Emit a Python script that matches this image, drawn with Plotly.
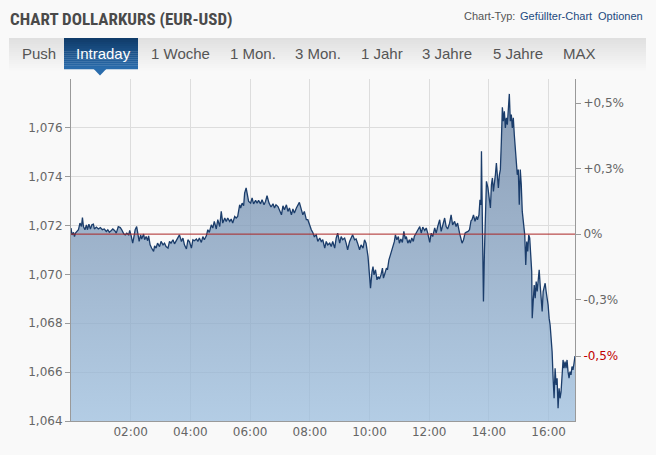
import plotly.graph_objects as go

# ---------------- data ----------------
# minutes after 00:00
minutes = [
    0, 2, 5, 7, 9, 12, 15, 18, 21, 23, 25, 28, 31, 33, 36, 39, 42, 45, 47, 51,
    55, 59, 63, 67, 71, 74, 77, 81, 84, 88, 91, 95, 99, 102, 106, 109, 112, 116, 118, 121,
    124, 126, 129, 132, 134, 137, 140, 142, 146, 148, 151, 154, 156, 159, 162, 166, 168, 171, 174, 178,
    181, 185, 188, 191, 195, 198, 201, 205, 208, 211, 215, 218, 222, 225, 228, 232, 235, 238, 242, 245,
    248, 252, 255, 258, 262, 265, 268, 272, 275, 278, 282, 285, 288, 292, 295, 299, 302, 305, 309, 312,
    315, 319, 322, 325, 329, 332, 335, 339, 341, 344, 347, 349, 352, 355, 357, 361, 364, 367, 371, 374,
    377, 381, 384, 388, 391, 394, 398, 402, 406, 409, 412, 416, 419, 423, 426, 429, 433, 436, 439, 443,
    446, 449, 453, 456, 459, 463, 466, 469, 473, 476, 479, 483, 486, 489, 493, 496, 500, 503, 506, 510,
    513, 516, 520, 523, 526, 530, 533, 536, 540, 543, 546, 550, 553, 556, 560, 563, 566, 570, 573, 576,
    580, 583, 587, 590, 593, 597, 599, 601, 602, 605, 607, 609, 612, 615, 618, 620, 623, 626, 628, 631,
    634, 636, 639, 642, 644, 647, 650, 652, 655, 658, 660, 663, 666, 669, 672, 674, 677, 680, 682, 685,
    688, 690, 694, 697, 701, 704, 707, 711, 714, 717, 721, 724, 727, 731, 734, 737, 741, 744, 747, 751,
    754, 757, 761, 764, 767, 771, 774, 777, 781, 784, 786, 789, 792, 794, 798, 801, 804, 806, 809, 812,
    815, 817, 820, 822, 824, 825, 827, 828, 829, 831, 833, 835, 838, 840, 843, 845, 847, 849, 851, 853,
    855, 857, 859, 861, 863, 865, 867, 869, 871, 873, 875, 877, 879, 881, 883, 885, 887, 889, 891, 893,
    895, 897, 899, 901, 903, 905, 907, 910, 912, 914, 916, 918, 920, 922, 924, 926, 927, 929, 931, 933,
    935, 937, 939, 941, 943, 945, 947, 949, 951, 953, 955, 957, 959, 961, 963, 965, 967, 969, 971, 973,
    975, 977, 979, 981, 983, 985, 987, 989, 991, 993, 995, 997, 999, 1001, 1003, 1005, 1007, 1009, 1011, 1013,
]

# EUR-USD price
prices = [
    1.07190, 1.07162, 1.07172, 1.07155, 1.07169, 1.07176, 1.07183, 1.07210, 1.07196, 1.07233,
    1.07196, 1.07183, 1.07203, 1.07183, 1.07206, 1.07186, 1.07203, 1.07206, 1.07186, 1.07194,
    1.07186, 1.07192, 1.07183, 1.07186, 1.07176, 1.07183, 1.07173, 1.07180, 1.07186, 1.07179,
    1.07169, 1.07196, 1.07192, 1.07183, 1.07166, 1.07162, 1.07169, 1.07162, 1.07180, 1.07158,
    1.07128, 1.07149, 1.07183, 1.07196, 1.07166, 1.07135, 1.07162, 1.07145, 1.07165, 1.07142,
    1.07155, 1.07138, 1.07158, 1.07121, 1.07108, 1.07094, 1.07117, 1.07108, 1.07128, 1.07114,
    1.07135, 1.07121, 1.07128, 1.07114, 1.07108, 1.07135, 1.07128, 1.07142, 1.07125, 1.07135,
    1.07149, 1.07162, 1.07135, 1.07149, 1.07121, 1.07104, 1.07142, 1.07135, 1.07108, 1.07142,
    1.07138, 1.07145, 1.07135, 1.07149, 1.07131, 1.07155, 1.07142, 1.07158, 1.07183, 1.07172,
    1.07203, 1.07190, 1.07217, 1.07186, 1.07224, 1.07196, 1.07258, 1.07210, 1.07231, 1.07217,
    1.07231, 1.07217, 1.07227, 1.07210, 1.07237, 1.07231, 1.07237, 1.07285, 1.07272, 1.07292,
    1.07281, 1.07333, 1.07354, 1.07313, 1.07299, 1.07292, 1.07313, 1.07289, 1.07303, 1.07292,
    1.07303, 1.07289, 1.07306, 1.07285, 1.07299, 1.07322, 1.07292, 1.07276, 1.07289, 1.07272,
    1.07285, 1.07278, 1.07265, 1.07244, 1.07281, 1.07265, 1.07285, 1.07258, 1.07272, 1.07244,
    1.07268, 1.07251, 1.07272, 1.07285, 1.07295, 1.07265, 1.07244, 1.07258, 1.07224, 1.07224,
    1.07203, 1.07183, 1.07172, 1.07155, 1.07162, 1.07135, 1.07149, 1.07135, 1.07142, 1.07108,
    1.07135, 1.07121, 1.07128, 1.07114, 1.07135, 1.07108, 1.07149, 1.07169, 1.07128, 1.07155,
    1.07142, 1.07149, 1.07128, 1.07101, 1.07135, 1.07149, 1.07162, 1.07142, 1.07145, 1.07128,
    1.07101, 1.07121, 1.07108, 1.07142, 1.07128, 1.07073, 1.07027, 1.06978, 1.06944, 1.07012,
    1.07032, 1.06998, 1.07019, 1.06978, 1.06991, 1.06981, 1.06998, 1.07026, 1.06985, 1.07005,
    1.07026, 1.07019, 1.07060, 1.07080, 1.07094, 1.07108, 1.07135, 1.07162, 1.07142, 1.07155,
    1.07128, 1.07145, 1.07131, 1.07176, 1.07145, 1.07155, 1.07128, 1.07142, 1.07128, 1.07149,
    1.07135, 1.07155, 1.07169, 1.07176, 1.07196, 1.07169, 1.07194, 1.07180, 1.07190, 1.07169,
    1.07131, 1.07169, 1.07155, 1.07190, 1.07169, 1.07196, 1.07224, 1.07176, 1.07203, 1.07231,
    1.07196, 1.07186, 1.07210, 1.07244, 1.07203, 1.07217, 1.07196, 1.07210, 1.07169, 1.07145,
    1.07128, 1.07142, 1.07169, 1.07172, 1.07176, 1.07183, 1.07220, 1.07224, 1.07244, 1.07217,
    1.07237, 1.07224, 1.07244, 1.07306, 1.07285, 1.07504, 1.07067, 1.06916, 1.06889, 1.07094,
    1.07299, 1.07381, 1.07354, 1.07326, 1.07272, 1.07367, 1.07395, 1.07340, 1.07367, 1.07408,
    1.07456, 1.07408, 1.07354, 1.07408, 1.07429, 1.07545, 1.07684, 1.07627, 1.07668, 1.07600,
    1.07641, 1.07613, 1.07695, 1.07739, 1.07627, 1.07654, 1.07600, 1.07641, 1.07572, 1.07504,
    1.07436, 1.07408, 1.07429, 1.07285, 1.07429, 1.07367, 1.07258, 1.07176, 1.07162, 1.07039,
    1.07135, 1.07094, 1.07162, 1.07149, 1.07080, 1.07012, 1.06821, 1.06916, 1.06957, 1.06903,
    1.06971, 1.06930, 1.06985, 1.07019, 1.06957, 1.06903, 1.06848, 1.06930, 1.06944, 1.06964,
    1.06930, 1.06903, 1.06875, 1.06821, 1.06793, 1.06739, 1.06684, 1.06575, 1.06493, 1.06616,
    1.06548, 1.06575, 1.06452, 1.06534, 1.06493, 1.06520, 1.06575, 1.06650, 1.06616, 1.06643,
    1.06616, 1.06650, 1.06602, 1.06575, 1.06602, 1.06589, 1.06623, 1.06609, 1.06636, 1.06666,
]

prev_close = 1.07165
y_range = [1.064, 1.078]
y_ticks = [1.064, 1.066, 1.068, 1.070, 1.072, 1.074, 1.076]
x_range = [0, 1013]
x_tick_minutes = [120, 240, 360, 480, 600, 720, 840, 960]
x_tick_labels = ["02:00", "04:00", "06:00", "08:00", "10:00", "12:00", "14:00", "16:00"]
pct_ticks = [0.5, 0.25, 0.0, -0.25]
pct_labels = ["+0,5%", "+0,3%", "0%", "-0,3%"]
tabs = ["Push", "Intraday", "1 Woche", "1 Mon.", "3 Mon.", "1 Jahr", "3 Jahre", "5 Jahre", "MAX"]
title_text = "CHART DOLLARKURS (EUR-USD)"

# ---------------- layout geometry ----------------
W, H = 656, 455
L, R, T, B = 71, 81, 79, 34
PW, PH = W - L - R, H - T - B
BG = "#f9f9f9"


def fx(px):
    return (px - L) / PW


def fy(py):
    return (H - B - py) / PH


TICK_FONT = dict(family="DejaVu Sans, Verdana, sans-serif", size=12, color="#666666")
GRID = "#dddddd"
AXIS = "#9a9a9a"

# right axis ticks (percent vs previous close) + current value
last = prices[-1]
chg = (last / prev_close - 1) * 100
cur_label = ("%+.1f" % chg).replace(".", ",") + "%"
r_vals = [prev_close * (1 + p / 100) for p in pct_ticks] + [last]
r_text = pct_labels + ['<span style="color:#c00000">%s</span>' % cur_label]

fig = go.Figure()
fig.add_trace(go.Scatter(
    x=minutes, y=prices, mode="lines",
    line=dict(color="#1b3d6b", width=1.3),
    fill="tozeroy",
    fillgradient=dict(
        type="vertical",
        colorscale=[[0, "rgba(156,190,222,0.75)"], [1, "rgba(101,125,157,0.75)"]],
        start=y_range[0], stop=y_range[1],
    ),
    hoverinfo="skip", showlegend=False,
))
fig.add_trace(go.Scatter(
    x=[minutes[-1]], y=[last], yaxis="y2", mode="markers",
    marker=dict(opacity=0), hoverinfo="skip", showlegend=False,
))

shapes = []
# previous close line
shapes.append(dict(type="line", xref="paper", x0=0, x1=1, yref="y", y0=prev_close, y1=prev_close,
                   line=dict(color="#ab2424", width=1)))


def lerp(c1, c2, t):
    return "rgb(%d,%d,%d)" % tuple(round(a + (b - a) * t) for a, b in zip(c1, c2))


# tab bar gradient
n = 16
y0, y1 = 38, 70
for i in range(n):
    ya = y0 + (y1 - y0) * i / n
    yb = y0 + (y1 - y0) * (i + 1) / n + 0.3
    shapes.append(dict(type="rect", xref="paper", yref="paper", x0=fx(9), x1=fx(646),
                       y0=fy(yb), y1=fy(ya), line=dict(width=0),
                       fillcolor=lerp((224, 224, 224), (247, 247, 247), i / (n - 1)), layer="below"))
# active tab
for i in range(n):
    ya = 38 + 31 * i / n
    yb = 38 + 31 * (i + 1) / n + 0.3
    shapes.append(dict(type="rect", xref="paper", yref="paper", x0=fx(64), x1=fx(138),
                       y0=fy(yb), y1=fy(ya), line=dict(width=0),
                       fillcolor=lerp((16, 60, 106), (42, 108, 172), i / (n - 1))))
shapes.append(dict(type="path", xref="paper", yref="paper",
                   path="M %f,%f L %f,%f L %f,%f Z" % (fx(93.5), fy(68.8), fx(106.5), fy(68.8), fx(100), fy(75.5)),
                   fillcolor="rgb(42,108,172)", line=dict(width=0)))

annotations = []
annotations.append(dict(xref="paper", yref="paper", x=fx(8), y=fy(19), xanchor="left", yanchor="middle",
                        text="<b>%s</b>" % title_text, showarrow=False,
                        font=dict(family="Liberation Sans Narrow, Arial Narrow, Roboto Condensed, Liberation Sans, Arial",
                                  size=17, color="#4a4a4a")))
annotations.append(dict(xref="paper", yref="paper", x=fx(462), y=fy(16), xanchor="left", yanchor="middle",
                        text="Chart-Typ:", showarrow=False,
                        font=dict(family="Liberation Sans, Arial", size=11, color="#555555")))
annotations.append(dict(xref="paper", yref="paper", x=fx(518), y=fy(16), xanchor="left", yanchor="middle",
                        text="Gefüllter-Chart", showarrow=False,
                        font=dict(family="Liberation Sans, Arial", size=11, color="#1d4a80")))
annotations.append(dict(xref="paper", yref="paper", x=fx(645), y=fy(16), xanchor="right", yanchor="middle",
                        text="Optionen", showarrow=False,
                        font=dict(family="Liberation Sans, Arial", size=11, color="#1d4a80")))
tab_left_px = [20, 74, 149, 228, 293, 359, 420, 491, 561]
for name, px in zip(tabs, tab_left_px):
    annotations.append(dict(xref="paper", yref="paper", x=fx(px), y=fy(53.5), xanchor="left", yanchor="middle",
                            text=name, showarrow=False,
                            font=dict(family="Liberation Sans, Arial", size=15,
                                      color="#ffffff" if name == "Intraday" else "#555555")))

fig.update_layout(
    width=W, height=H,
    margin=dict(l=L, r=R, t=T, b=B, pad=0),
    paper_bgcolor=BG, plot_bgcolor=BG,
    separators=",.",
    showlegend=False,
    shapes=shapes, annotations=annotations,
    xaxis=dict(range=x_range, tickvals=x_tick_minutes, ticktext=x_tick_labels,
               showgrid=True, gridcolor=GRID, gridwidth=1, zeroline=False,
               showline=True, linecolor=AXIS, linewidth=1, ticks="",
               tickfont=TICK_FONT, fixedrange=True),
    yaxis=dict(range=y_range, tickvals=y_ticks, tickformat=".3f",
               showgrid=True, gridcolor=GRID, gridwidth=1, zeroline=False,
               showline=True, linecolor=AXIS, linewidth=1,
               ticks="outside", ticklen=5, tickcolor=AXIS, tickfont=TICK_FONT, fixedrange=True),
    yaxis2=dict(range=y_range, overlaying="y", side="right", tickvals=r_vals, ticktext=r_text,
                showgrid=False, zeroline=False, showline=True, linecolor=AXIS, linewidth=1,
                ticks="outside", ticklen=5, tickcolor=AXIS, tickfont=TICK_FONT, fixedrange=True),
)

fig.write_html(
    "out.html",
    config={"displayModeBar": False, "staticPlot": True},
    post_script="document.body.style.margin='0';document.body.style.background='%s';"
                "document.documentElement.style.overflow='hidden';" % BG,
)
